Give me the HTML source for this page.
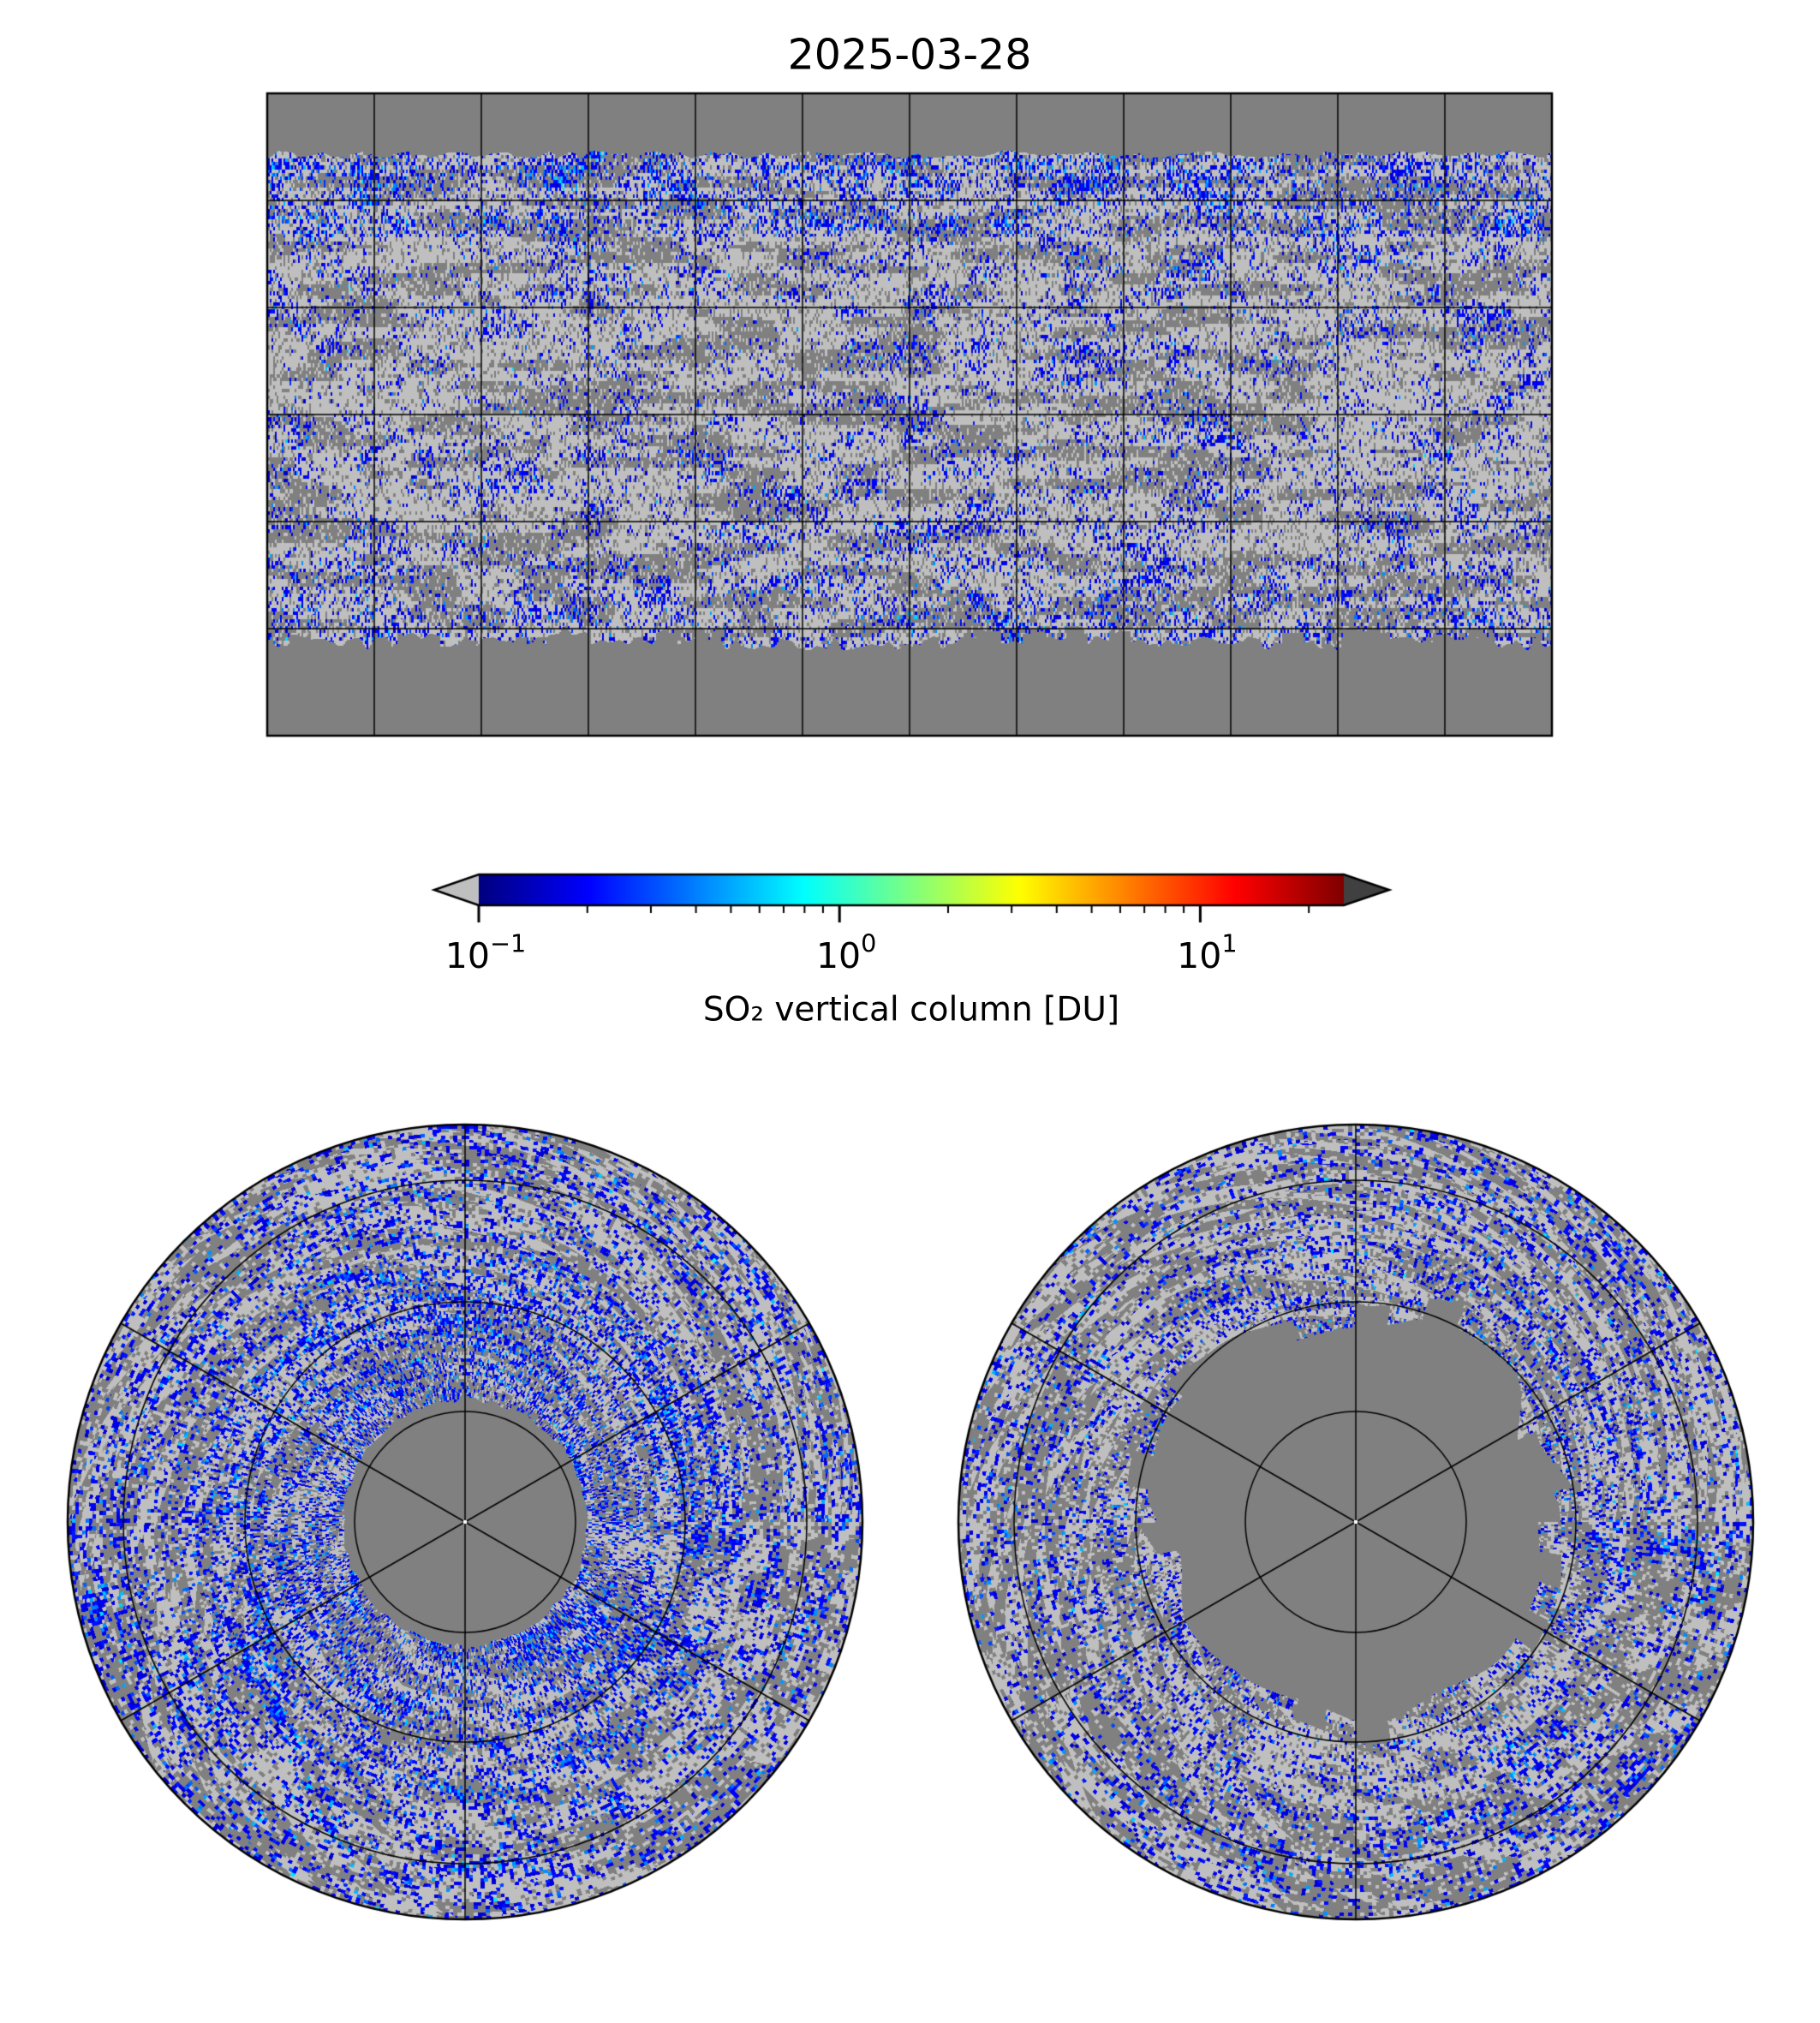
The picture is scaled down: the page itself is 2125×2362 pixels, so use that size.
<!DOCTYPE html>
<html><head><meta charset="utf-8">
<style>
html,body{margin:0;padding:0;background:#fff;}
#wrap{position:relative;width:2125px;height:2362px;overflow:hidden;font-family:"DejaVu Sans","Liberation Sans",sans-serif;color:#000;}
canvas{position:absolute;left:0;top:0;}
.t{position:absolute;white-space:nowrap;transform:translate(-50%,-50%);}
sup{font-size:0.7em;vertical-align:0.65em;line-height:0;}
</style></head>
<body>
<div id="wrap">
<canvas id="cv" width="2125" height="2362"></canvas>
<div class="t" style="left:1062px;top:64px;font-size:49px;">2025-03-28</div>
<div id="ticks"></div>
<div class="t" style="left:1064px;top:1179px;font-size:39px;">SO₂ vertical column [DU]</div>
</div>
<script>
// ---- data arrays ----
const tickValues = [0.1, 1, 10];
const tickLabels = ["10<sup>−1</sup>", "10<sup>0</sup>", "10<sup>1</sup>"];
const cbarRange = [0.1, 25];
const gridLons = [-150,-120,-90,-60,-30,0,30,60,90,120,150];
const gridLats = [60,30,0,-30,-60];
const polarLats = [80,70,60];
const polarMeridianAngles = [90,30,-30];

const cv=document.getElementById('cv');
const ctx=cv.getContext('2d');
const W=2125,H=2362;
const img=ctx.createImageData(W,H);
const D=img.data;
for(let i=0;i<D.length;i+=4){D[i]=255;D[i+1]=255;D[i+2]=255;D[i+3]=255;}

function hash(a,b,s){let h=(a*374761393+b*668265263+s*1442695041)|0;h=(h^(h>>>13))*1274126177|0;h=h^(h>>>16);return (h>>>0)/4294967296;}
function vn(x,y,s){const ix=Math.floor(x),iy=Math.floor(y),fx=x-ix,fy=y-iy;
 const sx=fx*fx*(3-2*fx),sy=fy*fy*(3-2*fy);
 const a=hash(ix,iy,s),b=hash(ix+1,iy,s),c=hash(ix,iy+1,s),d=hash(ix+1,iy+1,s);
 return a+(b-a)*sx+(c-a)*sy+(a-b-c+d)*sx*sy;}
function jet(t){const c=v=>Math.max(0,Math.min(1,v));
 return [c(1.5-Math.abs(4*t-3))*255,c(1.5-Math.abs(4*t-2))*255,c(1.5-Math.abs(4*t-1))*255];}
const LG=[191,191,191],DG=[128,128,128];
function setp(x,y,c){const i=(y*W+x)*4;D[i]=c[0];D[i+1]=c[1];D[i+2]=c[2];}

function cellColor(ci,cj,f1,f2,boost,seed,gth){
 const r1=hash(ci,cj,seed),r2=hash(ci,cj,seed+7),r3=hash(ci,cj,seed+13);
 const p=0.04+0.4*f2*f2*f2+boost*(0.5+f2);
 if(r1<p){
   let t=0.07+0.08*r2;
   if(r3<0.12+boost) t+=0.14*r3/(0.12+boost)+0.1*f2*f2;
   if(r3>0.99) t+=0.2*r2;
   return jet(Math.min(t,0.9));
 }
 if(f1<gth) return r2<0.78?DG:LG;
 return r2<0.8?LG:DG;
}

// ---- global map ----
const MX0=312,MY0=109,MW=1500,MH=750;
for(let y=MY0;y<MY0+MH;y++){
 const lat=90-(y-MY0)/MH*180;
 for(let x=MX0;x<MX0+MW;x++){
  const ci=Math.floor((x-MX0)/2.1), cj=Math.floor((y-MY0)/4.2);
  const topLat=72+2*vn(ci/6,0,3), botLat=-62-4*vn(ci/5,0,4)+ (hash(Math.floor(ci/12),0,9)<0.3?3:0);
  if(lat>topLat||lat<botLat){setp(x,y,DG);continue;}
  const f1=vn(ci/30,cj/3,1), f2=vn(ci/18,cj/5,2);
  let boost=0;
  if(lat>50) boost=0.16; else if(lat<-40) boost=0.12*((-40-lat)/22);
  setp(x,y,cellColor(ci,cj,f1,f2,boost,11,0.4));
 }
}

// ---- polar maps ----
const PCY=1777, PR=464;
const polars=[{cx:543,north:true},{cx:1583,north:false}];
polars.forEach((P,k)=>{
 for(let y=PCY-PR;y<=PCY+PR;y++)for(let x=P.cx-PR;x<=P.cx+PR;x++){
  const dx=x-P.cx,dy=y-PCY,r=Math.sqrt(dx*dx+dy*dy);
  if(r>PR) continue;
  let th=Math.atan2(dy,dx); if(th<0) th+=2*Math.PI;
  const ir=Math.floor(r/4), ia=Math.floor(th*180/Math.PI/0.6);
  let capR;
  if(P.north) capR=140+6*vn(ia/8,0,21);
  else capR=205+55*vn(ia/35,0,22)+ (hash(Math.floor(ia/15),0,23)<0.3?25:0);
  if(r<capR){setp(x,y,DG);continue;}
  const f1=vn(ir/4,th*r/40,31+k), f2=vn(ir/5,th*r/30,41+k);
  let boost=0;
  if(P.north){ boost= r<320?0.22:0.1; }
  else boost=0.07;
  setp(x,y,cellColor(ir,ia,f1,f2,boost,51+k,0.5));
 }
});
ctx.putImageData(img,0,0);

// ---- map grid & frame ----
const lonX=l=>MX0+(l+180)/360*MW, latY=l=>MY0+(90-l)/180*MH;
ctx.strokeStyle='#000';ctx.lineWidth=1.5;
gridLons.forEach(l=>{ctx.beginPath();ctx.moveTo(lonX(l),MY0);ctx.lineTo(lonX(l),MY0+MH);ctx.stroke();});
gridLats.forEach(l=>{ctx.beginPath();ctx.moveTo(MX0,latY(l));ctx.lineTo(MX0+MW,latY(l));ctx.stroke();});
ctx.lineWidth=2.5;ctx.strokeRect(MX0,MY0,MW,MH);

// ---- polar grid ----
const latR=[129,257,399];
polars.forEach(P=>{
 ctx.lineWidth=1.5;
 latR.forEach(r=>{ctx.beginPath();ctx.arc(P.cx,PCY,r,0,2*Math.PI);ctx.stroke();});
 polarMeridianAngles.forEach(a=>{const t=a*Math.PI/180;
  ctx.beginPath();ctx.moveTo(P.cx-PR*Math.cos(t),PCY-PR*Math.sin(t));ctx.lineTo(P.cx+PR*Math.cos(t),PCY+PR*Math.sin(t));ctx.stroke();});
 ctx.lineWidth=2.5;ctx.beginPath();ctx.arc(P.cx,PCY,PR,0,2*Math.PI);ctx.stroke();
 ctx.fillStyle='#fff';ctx.fillRect(P.cx-2,PCY-2,4,4);
});

// ---- colorbar ----
const CX0=559,CX1=1569,CY0=1021,CY1=1057;
const lmin=Math.log10(cbarRange[0]),lmax=Math.log10(cbarRange[1]);
const vx=v=>CX0+(Math.log10(v)-lmin)/(lmax-lmin)*(CX1-CX0);
for(let x=CX0;x<CX1;x++){const c=jet((x-CX0)/(CX1-CX0));ctx.fillStyle=`rgb(${c[0]|0},${c[1]|0},${c[2]|0})`;ctx.fillRect(x,CY0,1,CY1-CY0);}
ctx.fillStyle='#bfbfbf';ctx.beginPath();ctx.moveTo(CX0,CY0);ctx.lineTo(507,(CY0+CY1)/2);ctx.lineTo(CX0,CY1);ctx.closePath();ctx.fill();
ctx.fillStyle='#404040';ctx.beginPath();ctx.moveTo(CX1,CY0);ctx.lineTo(1622,(CY0+CY1)/2);ctx.lineTo(CX1,CY1);ctx.closePath();ctx.fill();
ctx.lineWidth=2.5;ctx.strokeStyle='#000';ctx.beginPath();
ctx.moveTo(CX0,CY0);ctx.lineTo(CX1,CY0);ctx.lineTo(1622,(CY0+CY1)/2);ctx.lineTo(CX1,CY1);ctx.lineTo(CX0,CY1);ctx.lineTo(507,(CY0+CY1)/2);ctx.closePath();ctx.stroke();
ctx.lineWidth=2;
for(let d=-1;d<=1;d++)for(let m=2;m<=9;m++){const v=m*Math.pow(10,d);if(v>cbarRange[1])break;const x=vx(v);ctx.beginPath();ctx.moveTo(x,CY1);ctx.lineTo(x,CY1+9);ctx.stroke();}
ctx.lineWidth=3;
const tk=document.getElementById('ticks');
tickValues.forEach((v,i)=>{const x=vx(v);ctx.beginPath();ctx.moveTo(x,CY1);ctx.lineTo(x,CY1+20);ctx.stroke();
 const d=document.createElement('div');d.className='t';d.style.left=(x+8)+'px';d.style.top='1116px';d.style.fontSize='41px';d.innerHTML=tickLabels[i];
 
 
 tk.appendChild(d);});
</script>
</body></html>
